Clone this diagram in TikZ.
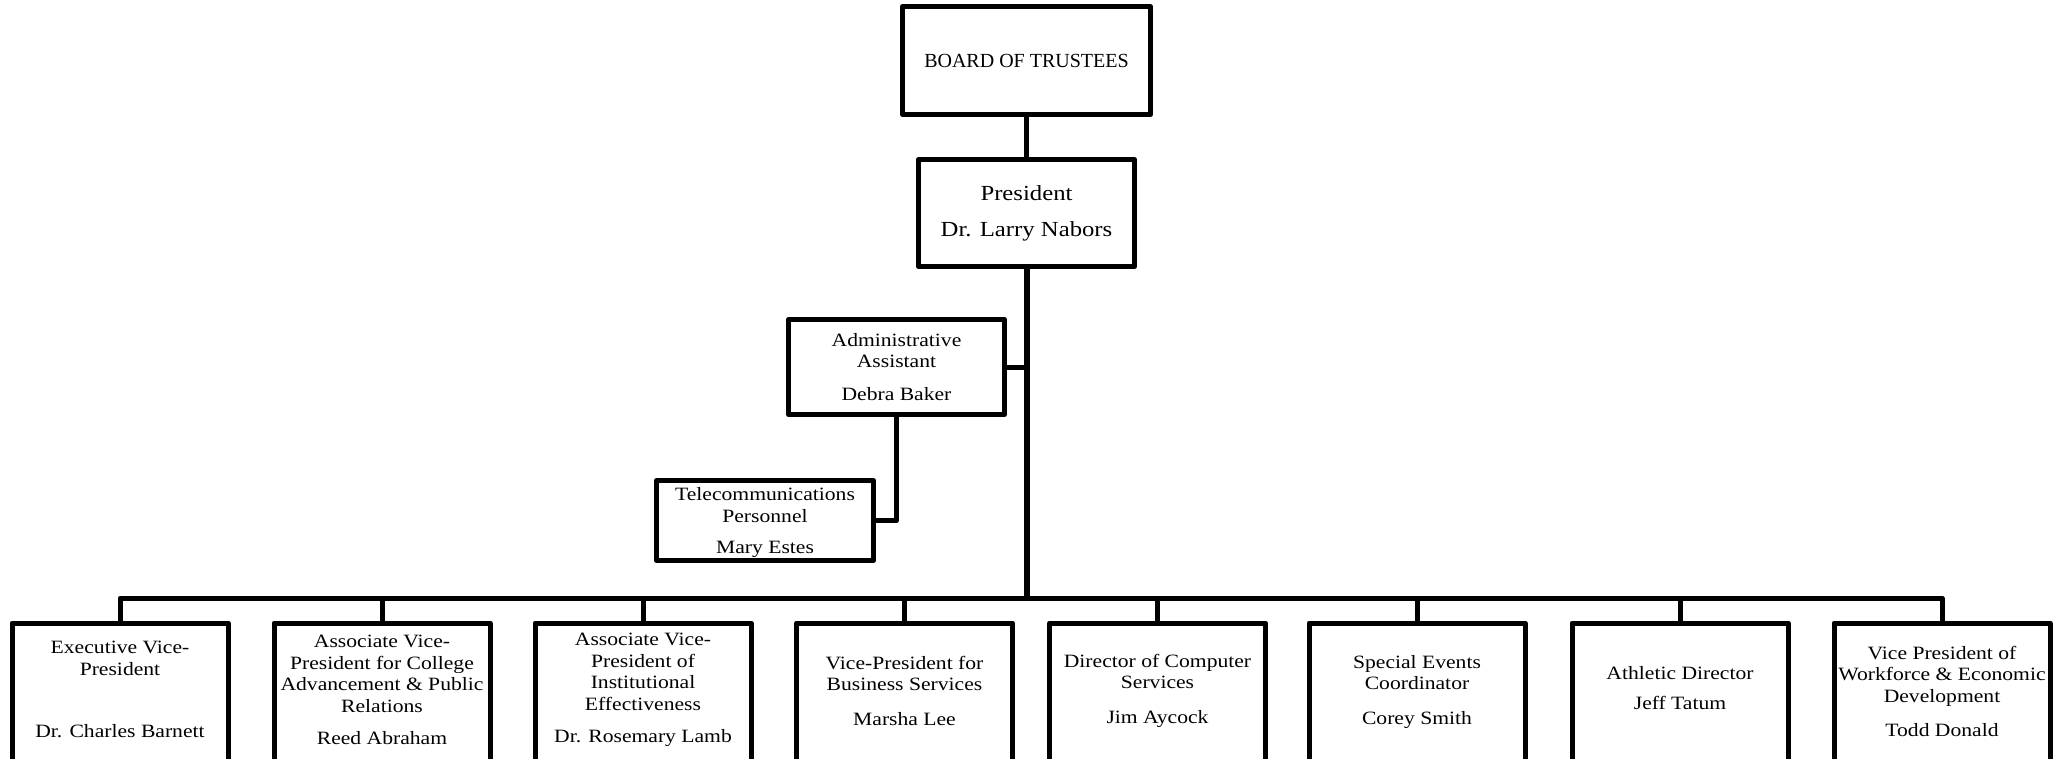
\documentclass[tikz,border=0pt]{standalone}
\usepackage{fontspec}
\setmainfont{Liberation Serif}
\newfontfamily\cam[FakeStretch=1.15]{Liberation Serif}
\tikzset{
  box/.style={draw, line width=5pt, line join=round, inner sep=0pt, align=center,
    minimum width=216pt, font=\cam\fontsize{18.8}{21.5}\selectfont},
  lowerbox/.style={draw, line width=5pt, line join=round, inner sep=0pt,
    minimum width=216pt, minimum height=300pt, anchor=north},
  txt/.style={align=center, inner sep=0pt, font=\cam\fontsize{18.8}{21.5}\selectfont},
  link/.style={line width=5pt, line join=round},
  mainlink/.style={line width=6pt, line join=round}
}
\begin{document}
\begin{tikzpicture}[x=1pt,y=-1pt]
\clip (0,0) rectangle (2053,759);
% top chain
\node[box, minimum width=248pt, minimum height=108pt, font=\fontsize{20}{24}\selectfont] (board) at (1026.5,60.5) {BOARD OF TRUSTEES};
\node[box, minimum height=107pt, font=\cam\fontsize{21.5}{24}\selectfont] (pres) at (1026.5,213) {President\\[12pt]Dr. Larry Nabors};
\node[box, minimum height=95pt] (adm) at (896.5,367) {Administrative\\Assistant\\[11pt]Debra Baker};
\node[box, minimum width=217pt, minimum height=80pt] (tel) at (765,520.5) {};
\node[txt, font=\cam\fontsize{18.8}{22}\selectfont] (telT) at (765,522.5) {Telecommunications\\Personnel\\[9pt]Mary Estes};
\coordinate (busy) at (0,598);
% lower boxes
\node[lowerbox] (b1) at (120,620.5) {};
\node[lowerbox] (b2) at (382,620.5) {};
\node[lowerbox] (b3) at (643,620.5) {};
\node[lowerbox] (b4) at (904.5,620.5) {};
\node[lowerbox] (b5) at (1157.5,620.5) {};
\node[lowerbox] (b6) at (1417,620.5) {};
\node[lowerbox] (b7) at (1680,620.5) {};
\node[lowerbox] (b8) at (1942,620.5) {};
% texts of lower boxes
\node[txt] (t1) at (120,689.5) {Executive Vice-\\President\\[41pt]Dr. Charles Barnett};
\node[txt] (t2) at (382,690) {Associate Vice-\\President for College\\Advancement \& Public\\Relations\\[11pt]Reed Abraham};
\node[txt] (t3) at (643,690) {Associate Vice-\\President of\\Institutional\\Effectiveness\\[11pt]Dr. Rosemary Lamb};
\node[txt] (t4) at (904.5,690.5) {Vice-President for\\Business Services\\[13pt]Marsha Lee};
\node[txt] (t5) at (1157.5,690.5) {Director of Computer\\Services\\[13pt]Jim Aycock};
\node[txt] (t6) at (1417,692) {Special Events\\Coordinator\\[13pt]Corey Smith};
\node[txt] (t7) at (1680,688) {Athletic Director\\[8pt]Jeff Tatum};
\node[txt] (t8) at (1942,691.5) {Vice President of\\Workforce \& Economic\\Development\\[13pt]Todd Donald};
% connectors
\draw[link] (board.south) -- (pres.north);
\draw[mainlink] (pres.south) -- (pres.south |- busy);
\draw[link] (adm.east) -- (adm.east -| pres.south);
\draw[link] (adm.south) |- (tel.east);
\draw[link] (b1.north) -- (b1.north |- busy) -- (b8.north |- busy) -- (b8.north);
\foreach \b in {b2,b3,b4,b5,b6,b7}{
  \draw[link] (\b.north) -- (\b.north |- busy);
}
\end{tikzpicture}
\end{document}
